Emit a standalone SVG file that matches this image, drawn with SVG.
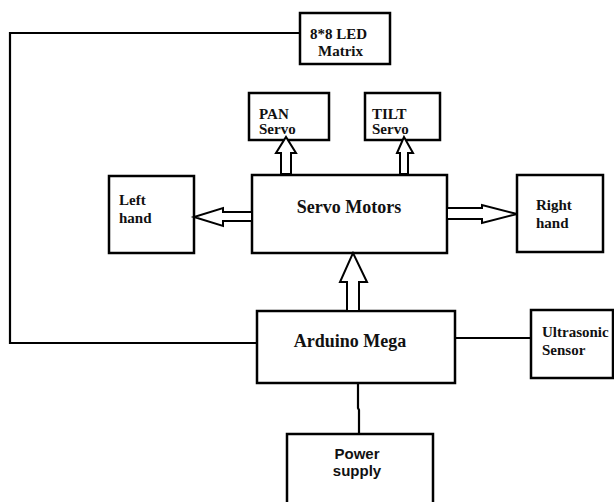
<svg xmlns="http://www.w3.org/2000/svg" width="614" height="502" viewBox="0 0 614 502">
<style>
.box{fill:#fff;stroke:#000;stroke-width:2.5}
.ln{fill:none;stroke:#000;stroke-width:2.2}
.arr{fill:#fff;stroke:#000;stroke-width:2;stroke-linejoin:miter}
.t{font-family:"Liberation Serif","Times New Roman",serif;font-weight:bold;font-size:15px;fill:#111}
.big{font-size:18px}
.s{font-family:"Liberation Sans",Arial,sans-serif;font-weight:bold;font-size:15px;fill:#111}
</style>
<rect width="614" height="502" fill="#fff"/>
<g id="connectors">
<polyline class="ln" points="300,33 10,33 10,343 257,343"/>
<line class="ln" x1="455" y1="338" x2="531" y2="338"/>
<polyline class="ln" points="358,383 358,408 359,410 359,434"/>
</g>
<g id="led"><rect class="box" x="300" y="13" width="90" height="51"/><text class="t" x="310" y="39">8*8 LED</text><text class="t" x="318" y="56">Matrix</text></g>
<g id="pan"><rect class="box" x="249" y="93" width="80" height="47"/><text class="t" x="259" y="119">PAN</text><text class="t" x="259" y="134">Servo</text></g>
<g id="tilt"><rect class="box" x="365" y="93" width="75" height="47"/><text class="t" x="372" y="119">TILT</text><text class="t" x="372" y="134">Servo</text></g>
<g id="servo"><rect class="box" x="252" y="175" width="195" height="78"/><text class="t big" x="349" y="213" text-anchor="middle">Servo Motors</text></g>
<g id="left"><rect class="box" x="109" y="176" width="85" height="77"/><text class="t" x="119" y="205">Left</text><text class="t" x="119" y="223">hand</text></g>
<g id="right"><rect class="box" x="517" y="175" width="86" height="77"/><text class="t" x="536" y="210">Right</text><text class="t" x="536" y="228">hand</text></g>
<g id="arduino"><rect class="box" x="257" y="311" width="198" height="72"/><text class="t big" x="350" y="347" text-anchor="middle">Arduino Mega</text></g>
<g id="ultrasonic"><rect class="box" x="531" y="310" width="82" height="68"/><text class="t" x="542" y="337">Ultrasonic</text><text class="t" x="542" y="355">Sensor</text></g>
<g id="power"><rect class="box" x="287" y="434" width="146" height="80"/><text class="s" x="357" y="459" text-anchor="middle">Power</text><text class="s" x="357" y="476" text-anchor="middle">supply</text></g>
<g id="arrows">
<polygon class="arr" points="281,174 281,153 276,153 286,137 296,153 291,153 291,174"/>
<polygon class="arr" points="400,174 400,153 397,153 404,137 413,153 408,153 408,174"/>
<polygon class="arr" points="347,311 347,282 340,282 353,253 367,282 359,282 359,311"/>
<polygon class="arr" points="252,212 223,212 223,208 194,217 223,226 223,221 252,221"/>
<polygon class="arr" points="447,208 482,208 482,205 517,214 482,223 482,219 447,219"/>
</g>
</svg>
